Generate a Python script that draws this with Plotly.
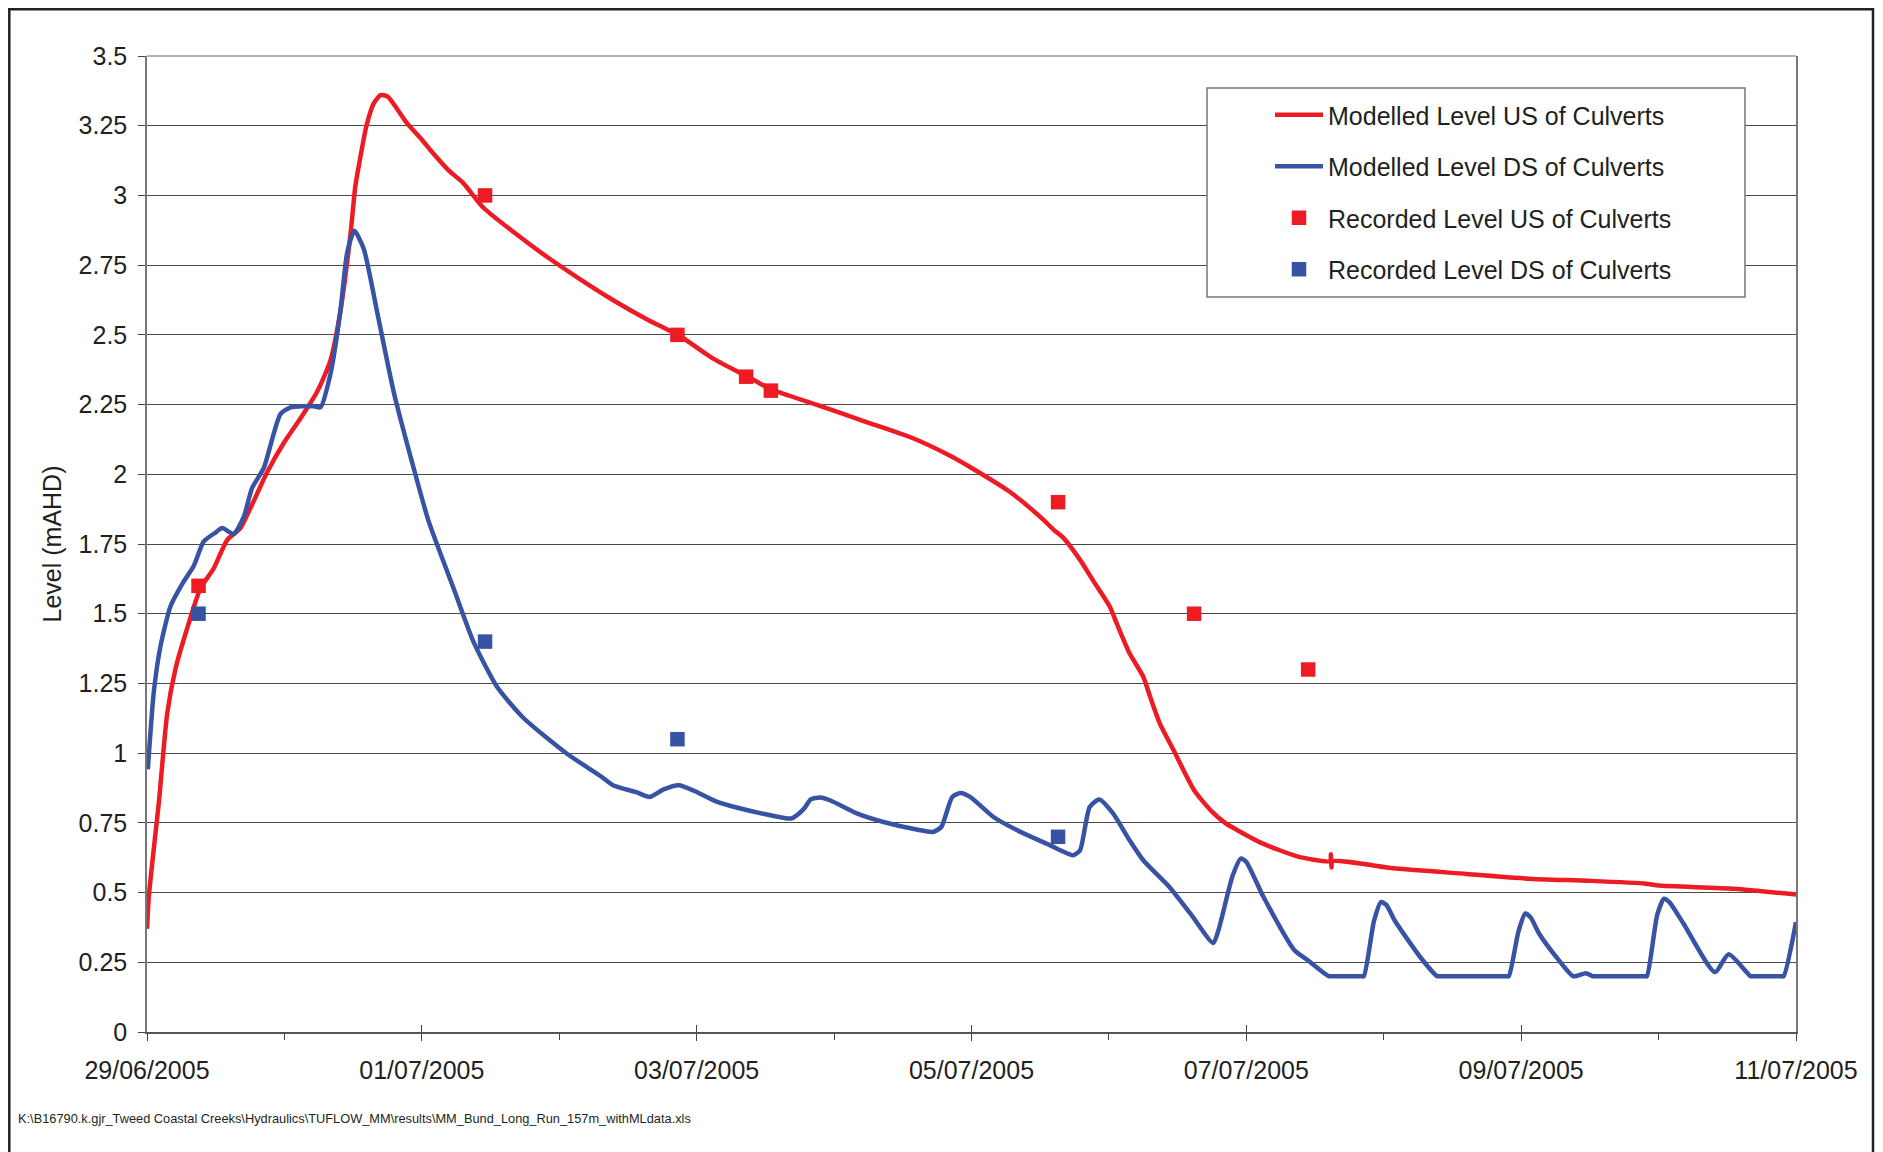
import pandas as pd
import plotly.graph_objects as go

# ---------------- data (days elapsed since 29/06/2005 00:00, level mAHD) ----------------
start_date = "2005-06-29 00:00"

us_model_days = [0.0, 0.013, 0.05, 0.086, 0.147, 0.207, 0.292, 0.389, 0.486, 0.583, 0.68, 0.753,
                 0.874, 0.995, 1.116, 1.238, 1.335, 1.407, 1.48, 1.516, 1.55, 1.596, 1.65, 1.70,
                 1.75, 1.82, 1.89, 2.0, 2.06, 2.195, 2.30, 2.45, 2.67, 2.91, 3.15, 3.39,
                 3.64, 3.88, 4.12, 4.39, 4.54, 4.87, 5.22, 5.57, 5.83, 6.01, 6.27, 6.40, 6.52,
                 6.60, 6.67, 6.79, 6.89, 7.007, 7.056, 7.15, 7.25, 7.30, 7.37, 7.47, 7.62, 7.75, 7.85,
                 7.93, 8.10, 8.37, 8.61, 8.615, 8.62, 8.625, 9.09, 9.6, 10.05, 10.5, 10.905,
                 11.0, 11.55, 12.0]
us_model_level = [0.37, 0.485, 0.66, 0.822, 1.142, 1.302, 1.447, 1.591, 1.663, 1.764, 1.807, 1.879,
                  2.007, 2.112, 2.200, 2.296, 2.408, 2.584, 2.857, 3.033, 3.13, 3.248, 3.33, 3.36,
                  3.355, 3.31, 3.26, 3.20, 3.164, 3.09, 3.045, 2.955, 2.868, 2.78, 2.70, 2.625,
                  2.555, 2.495, 2.415, 2.345, 2.305, 2.25, 2.19, 2.13, 2.07, 2.02, 1.94, 1.89, 1.838,
                  1.80, 1.771, 1.693, 1.615, 1.525, 1.466, 1.358, 1.274, 1.202, 1.107, 1.011, 0.867, 0.79, 0.748,
                  0.725, 0.68, 0.63, 0.613, 0.637, 0.59, 0.612, 0.586, 0.567, 0.55, 0.542, 0.532,
                  0.525, 0.514, 0.493]

ds_model_days = [0.006, 0.05, 0.098, 0.171, 0.26, 0.34, 0.413, 0.498, 0.547, 0.631, 0.704, 0.765,
                 0.85, 0.971, 1.044, 1.213, 1.262, 1.335, 1.407, 1.456, 1.509, 1.577, 1.674, 1.795,
                 1.94, 2.05, 2.231, 2.377, 2.547, 2.74, 3.056, 3.30, 3.39, 3.56, 3.66, 3.76, 3.87,
                 3.98, 4.15, 4.29, 4.51, 4.69, 4.78, 4.83, 4.90, 4.97, 5.165, 5.36, 5.60, 5.72,
                 5.78, 5.86, 5.92, 5.99, 6.16, 6.33, 6.57, 6.74, 6.79, 6.86, 6.93, 7.03, 7.15,
                 7.25, 7.44, 7.60, 7.76, 7.80, 7.90, 7.96, 8.00, 8.125, 8.35, 8.44, 8.60, 8.62,
                 8.835, 8.855, 8.93, 8.98, 9.02, 9.08, 9.265, 9.39, 9.41, 9.89, 9.91, 9.98, 10.03,
                 10.07, 10.13, 10.265, 10.38, 10.47, 10.52, 10.54, 10.895, 10.915, 10.99, 11.04,
                 11.08, 11.18, 11.41, 11.51, 11.67, 11.69, 11.89, 11.91, 12.0]
ds_model_level = [0.942, 1.222, 1.383, 1.527, 1.61, 1.671, 1.759, 1.791, 1.807, 1.786, 1.847, 1.951,
                  2.023, 2.216, 2.24, 2.244, 2.24, 2.36, 2.584, 2.793, 2.873, 2.809, 2.584, 2.296,
                  2.023, 1.831, 1.591, 1.398, 1.238, 1.126, 0.998, 0.918, 0.885, 0.86, 0.843, 0.87, 0.885,
                  0.865, 0.825, 0.805, 0.78, 0.766, 0.80, 0.834, 0.841, 0.831, 0.784, 0.753, 0.726, 0.7175,
                  0.735, 0.843, 0.857, 0.843, 0.771, 0.724, 0.67, 0.634, 0.652, 0.807, 0.834, 0.784, 0.688,
                  0.616, 0.52, 0.42, 0.319, 0.37, 0.56, 0.622, 0.61, 0.484, 0.293, 0.26, 0.20, 0.20,
                  0.20, 0.20, 0.40, 0.466, 0.455, 0.40, 0.269, 0.20, 0.20, 0.20, 0.20, 0.36, 0.425,
                  0.41, 0.353, 0.263, 0.20, 0.211, 0.20, 0.20, 0.20, 0.20, 0.42, 0.478,
                  0.465, 0.39, 0.215, 0.279, 0.20, 0.20, 0.20, 0.20, 0.394]

us_rec_days = [0.375, 2.46, 3.86, 4.36, 4.54, 6.63, 7.62, 8.45]
us_rec_level = [1.60, 3.00, 2.50, 2.35, 2.30, 1.90, 1.50, 1.30]

ds_rec_days = [0.375, 2.46, 3.86, 6.63]
ds_rec_level = [1.50, 1.40, 1.05, 0.70]

series_names = ["Modelled Level US of Culverts", "Modelled Level DS of Culverts",
                "Recorded Level US of Culverts", "Recorded Level DS of Culverts"]

x_tick_labels = ["29/06/2005", "01/07/2005", "03/07/2005", "05/07/2005",
                 "07/07/2005", "09/07/2005", "11/07/2005"]

y_title = "Level (mAHD)"
footnote = "K:\\B16790.k.gjr_Tweed Coastal Creeks\\Hydraulics\\TUFLOW_MM\\results\\MM_Bund_Long_Run_157m_withMLdata.xls"

# ---------------- helpers ----------------
t0 = pd.Timestamp(start_date)


def to_time(days):
    return [t0 + pd.to_timedelta(d, unit="D") for d in days]


tick_vals = [pd.to_datetime(s, format="%d/%m/%Y") for s in x_tick_labels]

# the page adds an 8px body margin; layout below is in figure pixels
W, H = 1875, 1144
ML, MR, MT, MB = 139, 87, 48, 120
PW, PH = W - ML - MR, H - MT - MB


def px(xp):
    return (xp - ML) / PW


def py(yp):
    return (H - MB - yp) / PH


RED = "#ED1C24"
BLUE = "#3953A4"
TXT = "#231F20"
FONT = "Liberation Sans, Arial, sans-serif"
LW = 4.5

fig = go.Figure()
fig.add_trace(go.Scatter(x=to_time(us_model_days), y=us_model_level, mode="lines",
                         name=series_names[0], legendgroup="a",
                         line=dict(color=RED, width=LW, shape="spline", smoothing=0.6)))
fig.add_trace(go.Scatter(x=to_time(ds_model_days), y=ds_model_level, mode="lines",
                         name=series_names[1], legendgroup="b",
                         line=dict(color=BLUE, width=LW, shape="spline", smoothing=0.6)))
fig.add_trace(go.Scatter(x=to_time(us_rec_days), y=us_rec_level, mode="markers",
                         name=series_names[2], legendgroup="c",
                         marker=dict(symbol="square", color=RED, size=14.5, line=dict(width=0))))
fig.add_trace(go.Scatter(x=to_time(ds_rec_days), y=ds_rec_level, mode="markers",
                         name=series_names[3], legendgroup="d",
                         marker=dict(symbol="square", color=BLUE, size=14.5, line=dict(width=0))))
# invisible trace to carry the inside half of the major x ticks
fig.add_trace(go.Scatter(x=[tick_vals[0]], y=[0], xaxis="x2", mode="markers",
                         marker=dict(opacity=0), showlegend=False, hoverinfo="skip"))

x_range = [tick_vals[0], tick_vals[-1]]

frame = dict(color="#222", width=2.5)

fig.update_layout(
    width=W, height=H,
    margin=dict(l=ML, r=MR, t=MT, b=MB, autoexpand=False),
    paper_bgcolor="white", plot_bgcolor="white",
    font=dict(family=FONT, size=25, color=TXT),
    showlegend=True,
    legend=dict(xref="container", yref="container",
                x=1262 / W, y=1 - 84 / H, xanchor="left", yanchor="top",
                bgcolor="rgba(0,0,0,0)", borderwidth=0,
                font=dict(family=FONT, size=25, color=TXT),
                itemwidth=48, tracegroupgap=16, traceorder="grouped"),
    xaxis=dict(type="date", range=x_range, tickmode="array", tickvals=tick_vals,
               ticktext=x_tick_labels, ticks="outside", ticklen=7, tickwidth=1.2,
               tickcolor="#444", showline=True, linecolor="#555", linewidth=1.5,
               showgrid=False, zeroline=False, ticklabelstandoff=8,
               tickfont=dict(family=FONT, size=25, color=TXT),
               minor=dict(dtick=86400000, ticks="outside", ticklen=6, tickwidth=1.2,
                          tickcolor="#444", showgrid=False)),
    xaxis2=dict(type="date", overlaying="x", matches="x", anchor="y", side="bottom",
                tickmode="array", tickvals=tick_vals, ticks="inside", ticklen=7, tickwidth=1.2,
                tickcolor="#444", showticklabels=False, showgrid=False, showline=False,
                zeroline=False),
    yaxis=dict(range=[0, 3.5], dtick=0.25, tick0=0, ticks="outside", ticklen=7, tickwidth=1.2,
               tickcolor="#444", showline=True, linecolor="#777", linewidth=1.5, mirror=True,
               showgrid=True, gridcolor="#4a4a4a", gridwidth=1, zeroline=False,
               ticklabelstandoff=6,
               tickfont=dict(family=FONT, size=25, color=TXT),
               title=dict(text=y_title, font=dict(family=FONT, size=25, color=TXT), standoff=10)),
    shapes=[
        # top edge of plot area
        dict(type="line", xref="paper", yref="paper", x0=0, x1=1, y0=1, y1=1,
             line=dict(color="#999", width=1.5), layer="above"),
        # legend frame
        dict(type="rect", xref="paper", yref="paper", x0=px(1199), x1=px(1737),
             y0=py(289), y1=py(80), fillcolor="white", line=dict(color="#777", width=1.5),
             layer="above"),
        # outer frame of chart (top, left, right)
        dict(type="line", xref="paper", yref="paper", x0=px(0), x1=px(1866),
             y0=py(1.3), y1=py(1.3), line=frame, layer="above"),
        dict(type="line", xref="paper", yref="paper", x0=px(1.3), x1=px(1.3),
             y0=py(0), y1=py(H), line=frame, layer="above"),
        dict(type="line", xref="paper", yref="paper", x0=px(1865), x1=px(1865),
             y0=py(0), y1=py(H), line=frame, layer="above"),
    ],
    annotations=[
        dict(text=footnote, xref="paper", yref="paper", x=px(8), y=py(1110),
             xanchor="left", yanchor="middle", showarrow=False,
             font=dict(family=FONT, size=12.8, color=TXT)),
    ],
)

fig.write_html("out.html")
